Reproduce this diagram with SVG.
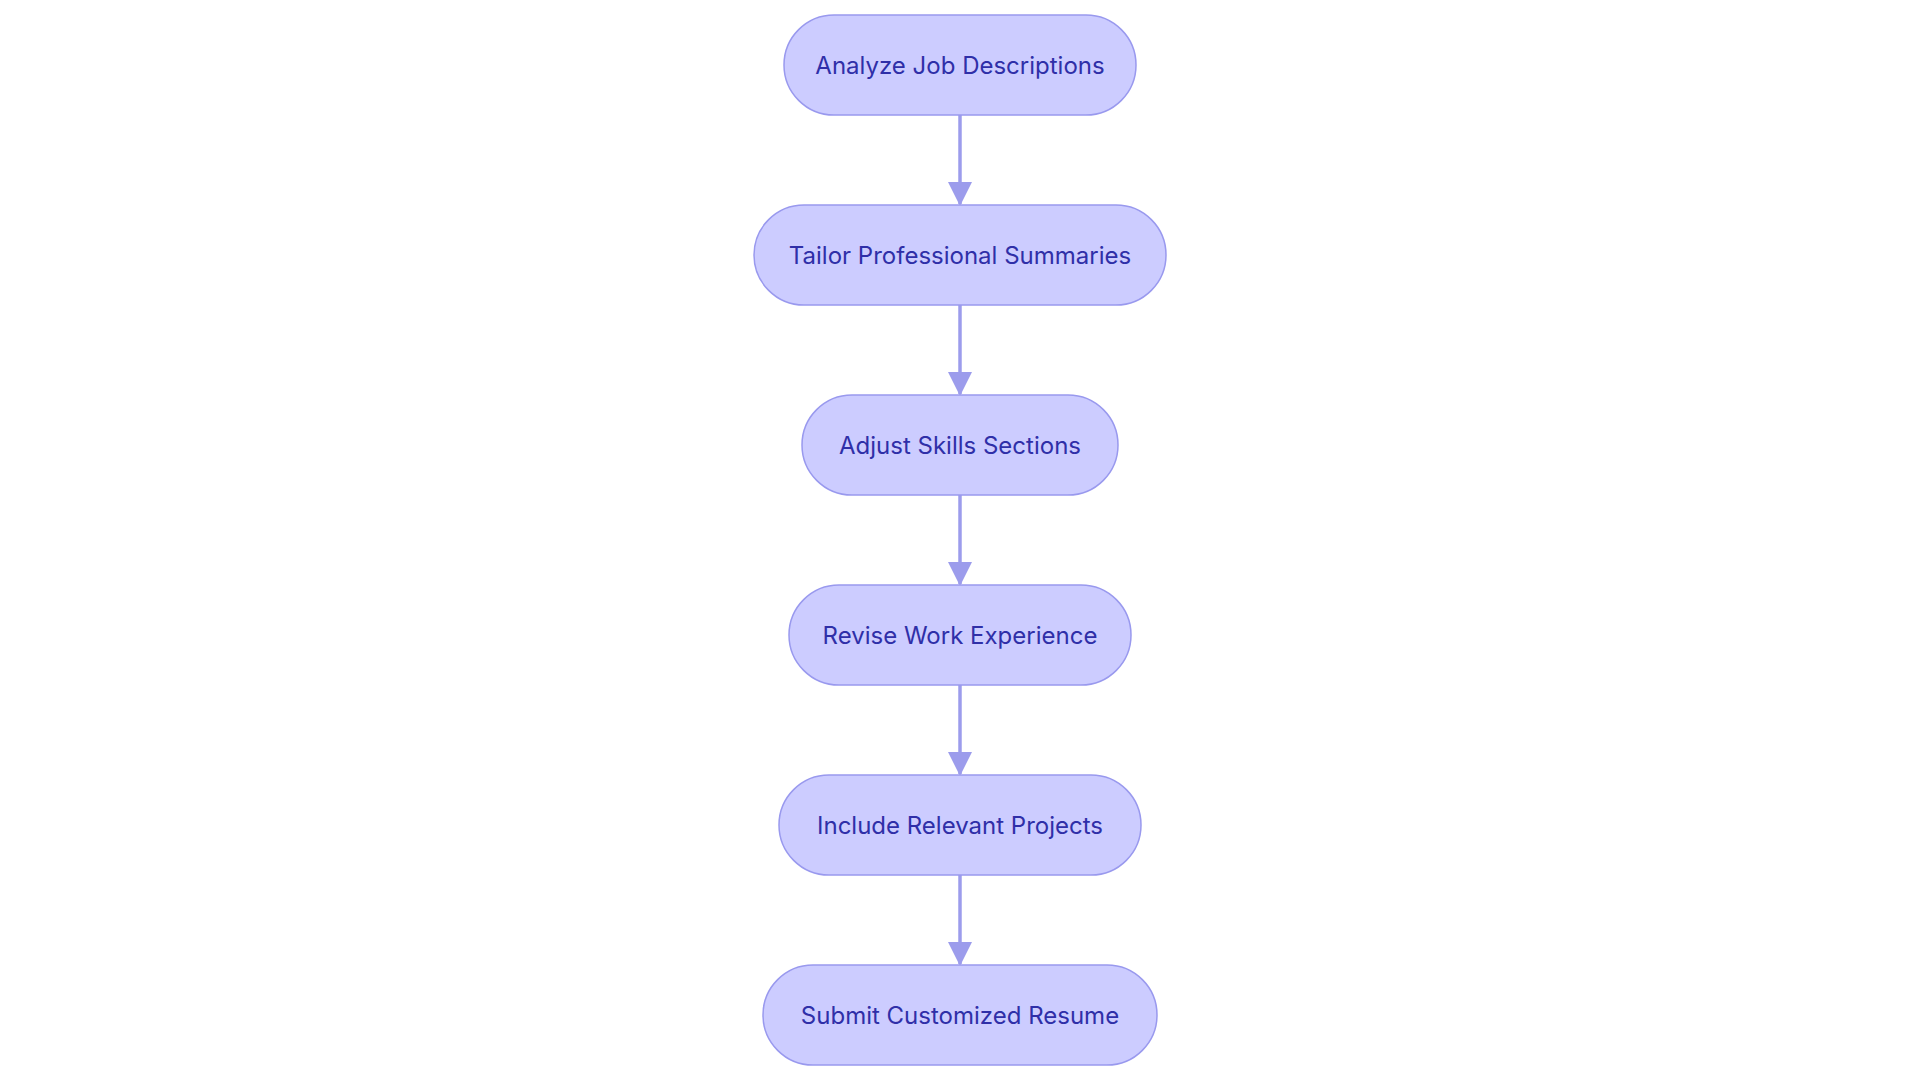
<svg xmlns="http://www.w3.org/2000/svg" width="1920" height="1080" viewBox="0 0 1920 1080">
<style>
.n rect{fill:#ccccff;stroke:#9999ee;stroke-width:1.5}
.n text{font-family:Inter,"Noto Sans",sans-serif;font-size:24px;fill:#2f2fa8;text-anchor:middle;dominant-baseline:central}
.c line{stroke:#9c9cec;stroke-width:3.5}
</style>
<defs><marker id="a" markerWidth="24" markerHeight="24" refX="22" refY="12" orient="auto" markerUnits="userSpaceOnUse" viewBox="0 0 24 24"><path d="M0,0L24,12L0,24Z" fill="#9c9cec"/></marker></defs>
<rect width="1920" height="1080" fill="#fff"/>
<g class="c">
<line x1="960" y1="115" x2="960" y2="204" marker-end="url(#a)"/>
<line x1="960" y1="305" x2="960" y2="394" marker-end="url(#a)"/>
<line x1="960" y1="495" x2="960" y2="584" marker-end="url(#a)"/>
<line x1="960" y1="685" x2="960" y2="774" marker-end="url(#a)"/>
<line x1="960" y1="875" x2="960" y2="964" marker-end="url(#a)"/>
</g>
<g id="n1" class="n"><rect x="784" y="15" width="352" height="100" rx="50"/><text x="960" y="65">Analyze Job Descriptions</text></g>
<g id="n2" class="n"><rect x="754" y="205" width="412" height="100" rx="50"/><text x="960" y="255">Tailor Professional Summaries</text></g>
<g id="n3" class="n"><rect x="802" y="395" width="316" height="100" rx="50"/><text x="960" y="445">Adjust Skills Sections</text></g>
<g id="n4" class="n"><rect x="789" y="585" width="342" height="100" rx="50"/><text x="960" y="635">Revise Work Experience</text></g>
<g id="n5" class="n"><rect x="779" y="775" width="362" height="100" rx="50"/><text x="960" y="825">Include Relevant Projects</text></g>
<g id="n6" class="n"><rect x="763" y="965" width="394" height="100" rx="50"/><text x="960" y="1015">Submit Customized Resume</text></g>
</svg>
